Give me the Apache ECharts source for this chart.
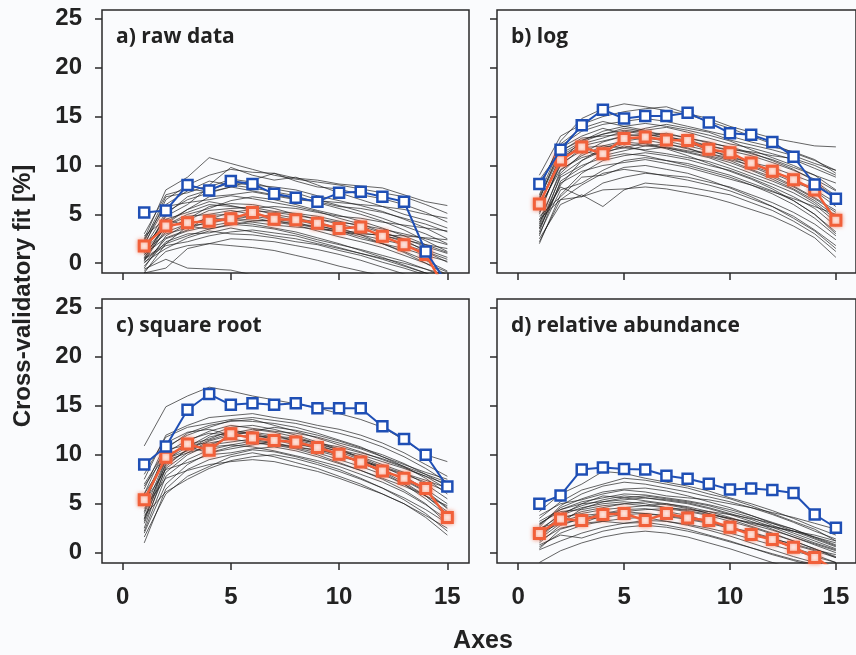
<!DOCTYPE html>
<html>
<head>
<meta charset="utf-8">
<script src="https://cdn.jsdelivr.net/npm/echarts@6/dist/echarts.min.js"></script>
<style>
html,body{margin:0;padding:0;background:#fafbfd;}
#chart{width:856px;height:655px;}
</style>
</head>
<body>
<div id="chart"></div>
<script>
// ---------- data ----------
const axesX = [1,2,3,4,5,6,7,8,9,10,11,12,13,14,15];
const xTicks = [0,5,10,15];
const yTicks = [0,5,10,15,20,25];
const panelTitles = ['a) raw data','b) log','c) square root','d) relative abundance'];

// blue (upper) and orange (lower) summary lines
const blueRaw  = [5.2,5.4,8.0,7.45,8.4,8.1,7.1,6.7,6.3,7.2,7.3,6.8,6.3,1.2,-2.1];
const orangeRaw= [1.75,3.8,4.15,4.3,4.55,5.2,4.5,4.45,4.1,3.55,3.7,2.75,1.9,0.9,-3.0];
const blueLog  = [8.1,11.6,14.1,15.7,14.8,15.05,15.05,15.4,14.4,13.3,13.15,12.4,10.9,8.05,6.6];
const orangeLog= [6.05,10.55,11.9,11.2,12.75,12.9,12.6,12.55,11.65,11.3,10.25,9.4,8.55,7.5,4.4];
const blueSqrt = [9.0,10.85,14.6,16.2,15.1,15.25,15.1,15.25,14.75,14.75,14.75,12.9,11.6,10.0,6.75];
const orangeSqrt=[5.4,9.75,11.1,10.45,12.15,11.7,11.45,11.3,10.75,10.05,9.25,8.35,7.6,6.55,3.6];
const blueRel  = [5.0,5.85,8.5,8.7,8.55,8.5,7.85,7.55,7.05,6.45,6.55,6.4,6.1,3.9,2.55];
const orangeRel= [1.95,3.45,3.3,3.9,4.0,3.3,4.0,3.55,3.3,2.6,1.85,1.35,0.55,-0.5,-1.8];

// thin individual lines
const thinRaw = [
[2.5,7.5,8.8,10.8,10.2,9.6,9.0,8.6,8.3,8.0,7.6,7.2,6.8,6.0,5.1],
[1.8,6.5,8.0,9.0,9.6,9.3,9.2,8.4,7.8,7.6,7.0,6.6,6.0,5.2,4.2],
[1.0,5.0,6.8,7.5,8.2,8.0,7.8,7.5,6.9,6.4,5.9,5.3,4.5,3.6,2.5],
[0.5,4.2,5.5,6.8,7.0,7.3,6.9,6.5,6.3,5.8,5.6,5.2,4.6,4.0,3.2],
[2.0,5.8,6.2,6.5,6.9,6.6,6.2,5.8,5.3,4.6,4.0,3.2,2.4,1.2,0.1],
[0.2,3.5,4.5,5.8,6.1,6.0,5.6,5.0,4.5,4.0,3.5,2.9,2.2,1.4,0.6],
[-0.5,2.8,4.0,4.5,5.2,5.5,5.0,4.6,4.2,3.6,2.9,2.0,1.1,0.0,-1.2],
[1.2,3.0,3.6,4.2,4.6,4.4,4.3,4.0,3.8,3.4,3.1,2.8,2.4,1.9,1.5],
[0.0,2.5,3.3,3.8,4.2,4.0,3.6,3.2,2.6,2.0,1.3,0.6,-0.2,-1.0,-2.0],
[-1.0,2.0,2.8,3.5,4.0,3.8,3.5,3.0,2.4,1.9,1.4,0.8,0.2,-0.6,-1.5],
[1.5,4.5,5.2,6.0,5.8,5.6,5.8,5.6,5.2,4.8,4.6,4.2,3.9,3.6,3.3],
[0.8,3.8,4.8,5.0,5.4,5.0,4.8,4.4,3.9,3.3,2.7,2.0,1.2,0.3,-0.8],
[2.8,4.5,3.8,4.1,4.5,4.8,4.5,4.2,3.6,3.2,2.5,2.0,1.5,0.8,0.2],
[0.4,1.8,2.2,2.8,3.2,3.4,3.1,2.8,2.2,1.6,1.0,0.4,-0.3,-1.0,-1.8],
[-0.8,1.2,1.8,2.0,2.5,2.4,2.2,1.8,1.4,0.9,0.3,-0.4,-1.1,-1.8,-2.5],
[1.6,5.2,6.5,7.2,7.8,7.4,7.0,6.6,6.4,6.2,6.0,5.8,5.5,5.0,4.6],
[0.6,3.2,4.0,4.6,4.5,4.2,3.9,3.7,3.5,3.2,3.0,2.9,2.8,2.6,2.4],
[-0.3,2.2,3.0,3.1,3.6,3.2,2.8,2.5,2.0,1.5,1.0,0.5,0.0,-0.6,-1.2],
[1.9,4.0,5.5,6.3,5.9,5.4,5.2,4.9,4.5,4.2,3.9,3.5,3.0,2.5,1.9],
[0.9,2.6,3.4,4.9,5.0,4.7,4.2,3.9,3.3,2.7,2.2,1.6,0.8,0.0,-0.9],
[-1.0,-0.5,1.5,2.0,1.8,1.6,1.3,0.8,0.3,-0.3,-0.8,-1.3,-2.0,-2.5,-3.0],
[2.2,6.8,7.2,8.0,9.8,9.0,8.5,8.8,8.0,7.2,6.5,5.8,5.0,4.4,3.6],
[1.3,3.6,4.4,5.4,5.6,5.7,5.3,5.1,4.8,4.3,3.8,3.1,2.5,1.7,1.0],
[0.1,1.5,2.6,3.3,3.0,2.9,2.6,2.2,1.9,1.3,0.8,0.1,-0.5,-1.2,-2.0],
[-0.6,0.4,-0.5,-0.6,-0.7,-1.2,-2.0,-3.0,-3.0,-3.0,-3.0,-3.0,-3.0,-3.0,-3.0],
[3.0,7.0,7.6,7.3,7.8,8.5,9.2,8.7,8.5,8.1,7.9,7.7,7.0,6.3,5.9],
[0.5,2.0,3.8,3.5,3.9,4.3,4.4,4.0,3.6,3.3,2.9,2.4,1.9,1.2,0.4],
[1.1,4.8,6.0,7.8,8.6,8.3,7.6,7.2,6.5,5.9,5.3,4.6,3.8,3.0,2.0],
[0.3,3.9,5.0,5.6,6.4,6.8,6.5,6.0,5.4,4.9,4.3,3.6,2.8,1.9,1.1],
[2.4,6.0,7.4,8.4,8.0,7.7,7.3,6.9,6.2,5.6,5.0,4.3,3.4,2.3,1.2]
];
const thinLog = [
[7.5,12.5,14.8,15.8,16.3,16.0,15.6,15.2,14.5,13.8,13.0,12.2,11.3,10.5,9.5],
[9.0,13.0,14.2,15.0,15.5,15.8,16.0,15.3,14.8,14.0,13.4,12.8,12.4,12.0,11.9],
[5.0,10.5,12.5,13.5,14.0,14.3,14.0,13.6,13.1,12.5,11.6,10.8,10.0,9.0,7.5],
[6.0,11.0,12.2,12.8,13.5,13.2,12.9,12.6,12.0,11.5,11.0,10.3,9.5,8.6,7.4],
[4.0,9.5,11.0,12.0,12.5,12.8,12.5,12.0,11.5,11.0,10.2,9.4,8.6,7.4,5.8],
[3.5,8.0,10.5,11.5,12.2,12.0,11.8,11.3,10.8,10.0,9.2,8.4,7.5,6.2,4.5],
[2.0,7.0,9.2,10.5,11.0,11.3,11.0,10.6,10.0,9.5,8.7,7.8,6.8,5.6,3.8],
[5.5,10.0,11.8,12.0,11.8,11.6,11.9,11.5,11.2,10.8,10.3,9.8,9.0,8.2,6.8],
[3.0,7.5,8.2,9.5,10.5,10.8,10.5,10.2,9.6,9.0,8.2,7.4,6.4,5.0,3.2],
[2.5,6.0,7.0,5.8,7.5,8.2,8.0,7.8,7.4,7.0,6.2,5.4,4.3,3.0,1.2],
[4.5,6.5,6.8,7.5,7.6,7.8,7.6,7.2,6.8,6.2,5.5,4.8,3.8,2.6,0.6],
[6.5,11.8,13.0,13.8,13.2,13.0,13.3,12.8,12.4,11.8,11.2,10.6,9.8,9.0,8.2],
[7.0,12.0,13.5,14.2,14.5,14.8,14.5,14.0,13.5,13.0,12.4,11.9,11.4,10.6,9.2],
[3.8,8.8,10.0,10.8,11.2,11.0,10.5,10.0,9.4,8.8,8.0,7.1,6.0,4.6,2.8],
[5.2,10.2,11.5,11.0,11.5,12.0,12.2,11.8,11.0,10.5,9.6,8.8,7.8,6.6,5.2],
[2.8,8.4,9.8,11.2,12.0,11.5,11.2,10.8,10.4,9.7,8.9,8.1,7.2,6.0,4.2],
[4.8,6.8,8.8,9.0,9.8,10.0,9.6,9.2,8.5,7.7,6.8,5.8,4.8,3.4,1.8],
[6.2,10.8,12.0,12.5,13.0,12.6,12.2,11.7,11.2,10.6,10.0,9.2,8.3,7.5,6.2],
[3.2,9.0,10.5,11.8,12.4,12.2,11.7,11.0,10.2,9.4,8.6,7.6,6.4,5.0,3.0],
[7.8,12.2,13.8,14.5,14.0,13.6,13.9,13.4,12.8,12.2,11.8,11.2,10.6,9.7,8.8],
[4.2,7.8,6.8,8.2,8.8,9.2,9.0,8.8,8.3,7.8,7.0,6.2,5.2,4.0,2.4],
[5.8,9.6,10.8,11.4,11.8,12.3,11.8,11.4,10.9,10.3,9.5,8.6,7.6,6.4,4.8],
[8.5,11.5,12.6,13.2,13.8,13.5,13.0,12.4,12.0,11.6,11.4,11.0,10.7,10.0,9.0],
[3.6,8.2,9.4,10.0,10.3,10.6,10.2,9.8,9.2,8.6,8.0,7.3,6.6,5.8,5.0],
[2.2,6.5,8.0,9.2,9.6,9.3,8.9,8.5,8.0,7.4,6.6,5.8,4.6,3.3,1.5],
[6.8,11.4,12.8,13.0,13.2,13.8,14.2,13.8,13.4,12.6,12.1,11.6,11.0,10.2,9.5],
[4.4,9.2,11.2,12.4,13.0,13.2,12.8,12.3,11.6,10.8,9.9,9.0,7.9,6.7,5.4],
[6.6,11.2,12.4,13.2,13.6,13.4,13.2,12.8,12.3,11.9,11.3,10.5,9.6,8.4,6.9]
];
const thinSqrt = [
[10.9,14.9,16.0,16.9,16.5,16.0,15.6,15.2,14.8,14.2,13.6,12.8,11.5,10.0,9.3],
[7.5,12.0,13.0,13.8,14.0,14.2,13.8,13.5,13.0,12.6,12.0,11.2,10.2,9.0,7.8],
[6.0,10.8,12.0,12.8,13.5,13.4,13.2,12.8,12.2,11.5,10.8,9.8,8.8,7.6,6.0],
[4.0,9.0,10.5,11.5,12.2,12.6,12.3,11.8,11.2,10.5,9.6,8.6,7.4,6.2,4.5],
[3.0,8.2,10.0,11.0,11.8,12.0,11.6,11.2,10.6,10.0,9.2,8.3,7.2,5.8,4.0],
[2.0,7.0,9.0,10.2,10.8,11.2,11.0,10.6,10.0,9.2,8.4,7.5,6.4,5.0,3.0],
[1.0,6.5,8.5,9.5,10.0,10.5,10.3,9.8,9.2,8.5,7.6,6.6,5.4,4.0,2.2],
[5.0,9.8,11.0,11.2,11.6,11.3,11.0,10.8,10.4,9.8,9.3,8.7,8.0,7.2,6.2],
[6.5,11.2,12.3,12.6,12.0,12.4,12.8,12.5,12.0,11.4,10.7,10.0,9.1,8.0,6.8],
[3.5,9.5,10.8,12.0,12.8,13.0,12.6,12.0,11.3,10.6,9.7,8.8,7.8,6.5,5.0],
[4.5,7.6,8.4,9.0,9.3,9.5,9.3,8.8,8.3,7.6,6.8,6.0,5.0,3.8,2.5],
[5.5,10.2,11.5,12.2,12.0,11.8,11.9,11.7,11.1,10.5,10.0,9.3,8.6,7.8,7.0],
[2.5,8.8,10.6,11.0,11.3,11.6,11.2,10.7,10.2,9.5,8.8,8.0,7.0,5.8,4.2],
[7.0,10.5,11.0,11.6,12.5,12.2,11.5,11.0,10.8,10.4,9.8,9.0,8.2,7.0,5.5],
[3.8,6.2,7.5,8.6,9.4,9.8,10.0,9.6,9.0,8.3,7.5,6.6,5.6,4.4,3.0],
[6.0,9.4,10.2,10.8,11.0,11.4,11.2,10.8,10.5,10.0,9.4,8.8,8.1,7.4,6.6],
[4.8,10.6,12.2,13.0,13.4,13.6,13.0,12.4,11.7,11.0,10.3,9.5,8.7,7.8,6.5],
[2.2,7.8,9.5,10.5,11.0,10.8,10.4,9.9,9.4,8.8,8.0,7.2,6.2,4.9,3.4],
[5.2,8.5,9.2,10.0,10.2,10.6,10.8,10.4,9.8,9.1,8.4,7.6,6.8,5.8,4.8],
[3.2,9.2,11.4,12.4,13.0,12.7,12.4,12.2,11.8,11.2,10.6,9.8,9.0,8.2,7.5],
[8.0,11.8,12.8,13.2,13.6,13.8,13.5,13.2,12.7,12.2,11.6,10.8,9.8,8.6,7.2],
[1.6,6.0,7.8,8.8,9.8,10.2,9.8,9.2,8.6,7.8,7.0,6.0,5.0,3.6,1.8],
[4.2,9.6,10.4,11.8,12.3,12.2,11.8,11.5,11.0,10.3,9.5,8.5,7.5,6.3,4.6],
[6.8,10.0,10.8,10.2,10.6,11.0,11.4,11.6,11.2,10.8,10.2,9.6,8.8,8.0,7.2],
[3.4,8.6,10.2,11.4,12.0,12.3,12.0,11.4,10.8,10.1,9.2,8.2,7.0,5.5,3.8]
];
const thinRel = [
[4.2,6.0,7.0,8.3,8.1,7.6,7.2,6.8,6.3,5.6,5.0,4.3,3.5,2.6,1.8],
[3.5,5.2,6.4,7.0,7.6,7.4,7.0,6.6,6.0,5.5,4.8,4.0,3.2,2.4,1.2],
[2.8,4.6,5.5,6.2,6.5,6.6,6.3,5.8,5.2,4.6,3.8,3.0,2.2,1.4,0.6],
[2.2,4.0,4.8,5.4,5.8,5.6,5.3,5.0,4.5,3.9,3.2,2.4,1.6,0.8,0.0],
[1.5,3.4,4.2,4.6,5.0,5.2,4.9,4.5,4.0,3.4,2.7,2.0,1.2,0.4,-0.4],
[1.0,2.8,3.5,4.0,4.4,4.5,4.2,3.8,3.2,2.6,2.0,1.3,0.5,-0.2,-1.0],
[0.6,2.0,2.8,3.2,3.5,3.6,3.2,2.8,2.3,1.7,1.0,0.3,-0.4,-1.0,-1.5],
[3.0,4.2,4.4,4.8,5.0,4.8,4.6,4.4,4.2,3.9,3.5,3.0,2.4,1.6,0.8],
[1.8,3.8,5.0,5.8,5.6,5.3,5.0,4.6,4.0,3.5,3.0,2.6,2.2,1.6,1.0],
[2.5,3.2,3.8,4.0,4.2,4.4,4.5,4.2,3.8,3.2,2.6,1.9,1.2,0.4,-0.5],
[0.3,1.2,2.0,2.6,3.0,3.1,2.8,2.4,1.8,1.2,0.5,-0.2,-0.8,-1.4,-2.0],
[-1.0,0.2,1.0,1.6,2.0,2.2,2.0,1.6,1.0,0.4,-0.3,-1.0,-1.6,-2.0,-2.5],
[3.8,5.0,5.4,6.0,6.4,6.2,5.8,5.6,5.4,5.0,4.6,4.1,3.6,3.0,2.4],
[2.0,3.0,3.4,3.6,3.9,4.0,3.8,3.5,3.1,2.6,2.1,1.5,0.8,0.2,-0.5],
[1.2,2.5,3.0,3.8,4.2,4.0,3.7,3.4,3.0,2.5,2.0,1.4,0.9,0.3,-0.2],
[2.6,4.8,6.0,6.8,7.2,7.0,6.6,6.2,5.7,5.2,4.6,3.9,3.1,2.2,1.4],
[0.8,1.8,1.5,2.2,2.6,2.8,2.6,2.2,1.7,1.1,0.5,-0.1,-0.7,-1.2,-1.8],
[3.2,4.4,5.0,5.2,5.4,5.6,5.4,5.1,4.6,4.0,3.4,2.6,1.8,1.0,0.3],
[1.6,3.6,4.0,4.4,4.6,4.8,5.0,4.7,4.2,3.6,2.9,2.3,1.6,0.9,0.2],
[2.4,3.8,4.6,5.0,5.2,5.0,4.6,4.3,3.9,3.5,3.1,2.7,2.2,1.8,1.2],
[0.4,2.4,3.0,3.2,3.0,3.3,3.2,2.9,2.5,2.0,1.4,0.8,0.2,-0.4,-1.0],
[1.4,3.0,4.5,5.2,5.6,5.8,5.5,5.2,4.8,4.2,3.6,2.8,2.0,1.2,0.4],
[2.9,4.4,5.2,5.6,6.0,5.9,5.6,5.3,4.9,4.4,3.8,3.1,2.4,1.5,0.7]
];

// ---------- chart ----------
const panels = [
  {thin: thinRaw,  blue: blueRaw,  orange: orangeRaw},
  {thin: thinLog,  blue: blueLog,  orange: orangeLog},
  {thin: thinSqrt, blue: blueSqrt, orange: orangeSqrt},
  {thin: thinRel,  blue: blueRel,  orange: orangeRel}
];
const grids = [
  {left:102, top:10,  width:367, height:263},
  {left:497, top:10,  width:367, height:263},
  {left:102, top:299, width:367, height:264},
  {left:497, top:299, width:367, height:264}
];
const xRanges = [[-0.95,16],[-1,15.95],[-0.95,16],[-1,15.95]];
const yRanges = [[-1,25.9],[-1,25.9],[-1.05,25.9],[-1.05,25.9]];
const FONT = '"Liberation Sans Narrow", "Liberation Sans", Arial, sans-serif';
const INK = '#2a2a2a';
const BLUE = '#1f4fb5';
const ORANGE = '#f1603a';

const pair = arr => arr.map((v,i)=>[axesX[i], v]);

const option = {
  backgroundColor: '#fafbfd',
  animation: false,
  title: panelTitles.map((t,i)=>({
    text: t,
    left: grids[i].left + 9,
    top: grids[i].top + 12,
    textStyle: {fontFamily: '"Open Sans", "DejaVu Sans", sans-serif', fontWeight: 'bold', fontSize: 21, color: '#222'}
  })),
  grid: grids.map(g=>Object.assign({show:true, borderColor:INK, borderWidth:1.5, backgroundColor:'transparent'}, g)),
  xAxis: grids.map((g,i)=>({
    type:'value', gridIndex:i, min:xRanges[i][0], max:xRanges[i][1],
    axisLine:{show:false, onZero:false},
    axisTick:{show:true, inside:false, length:7, customValues:xTicks, lineStyle:{color:INK, width:1.5}},
    axisLabel:{show:i>=2, customValues:xTicks, margin:22, fontFamily:FONT, fontWeight:'bold', fontSize:24, color:'#222'},
    splitLine:{show:false}
  })),
  yAxis: grids.map((g,i)=>({
    type:'value', gridIndex:i, min:yRanges[i][0], max:yRanges[i][1],
    axisLine:{show:false, onZero:false},
    axisTick:{show:true, inside:false, length:7, customValues:yTicks, lineStyle:{color:INK, width:1.5}},
    axisLabel:{show:i%2===0, customValues:yTicks, margin:20, fontFamily:FONT, fontWeight:'bold', fontSize:24, color:'#222'},
    splitLine:{show:false}
  })),
  graphic: [
    {type:'text', x:23, y:296, rotation:Math.PI/2,
     style:{text:'Cross-validatory fit [%]', font:'bold 24px "Liberation Sans", Arial, sans-serif', fill:'#222', textAlign:'center', textVerticalAlign:'middle'}},
    {type:'text', x:483, y:641,
     style:{text:'Axes', font:'bold 25px "Liberation Sans Narrow", "Liberation Sans", Arial, sans-serif', fill:'#222', textAlign:'center', textVerticalAlign:'middle'}}
  ],
  series: []
};

panels.forEach((p,i)=>{
  p.thin.forEach(line=>{
    option.series.push({
      type:'line', xAxisIndex:i, yAxisIndex:i, data:pair(line),
      symbol:'none', silent:true, clip:true, z:1,
      lineStyle:{color:'rgba(25,25,25,0.75)', width:0.9}
    });
  });
  option.series.push({
    type:'line', xAxisIndex:i, yAxisIndex:i, data:pair(p.orange), clip:true, z:3,
    symbol:'rect', symbolSize:10,
    lineStyle:{color:ORANGE, width:2.5},
    itemStyle:{color:'#fff4f0', borderColor:ORANGE, borderWidth:3, shadowBlur:4, shadowColor:'rgba(241,96,58,0.6)'}
  });
  option.series.push({
    type:'line', xAxisIndex:i, yAxisIndex:i, data:pair(p.blue), clip:true, z:4,
    symbol:'rect', symbolSize:10,
    lineStyle:{color:BLUE, width:2},
    itemStyle:{color:'#ffffff', borderColor:BLUE, borderWidth:2.5}
  });
});

const chart = echarts.init(document.getElementById('chart'), null, {renderer:'canvas'});
chart.setOption(option);
</script>
</body>
</html>
